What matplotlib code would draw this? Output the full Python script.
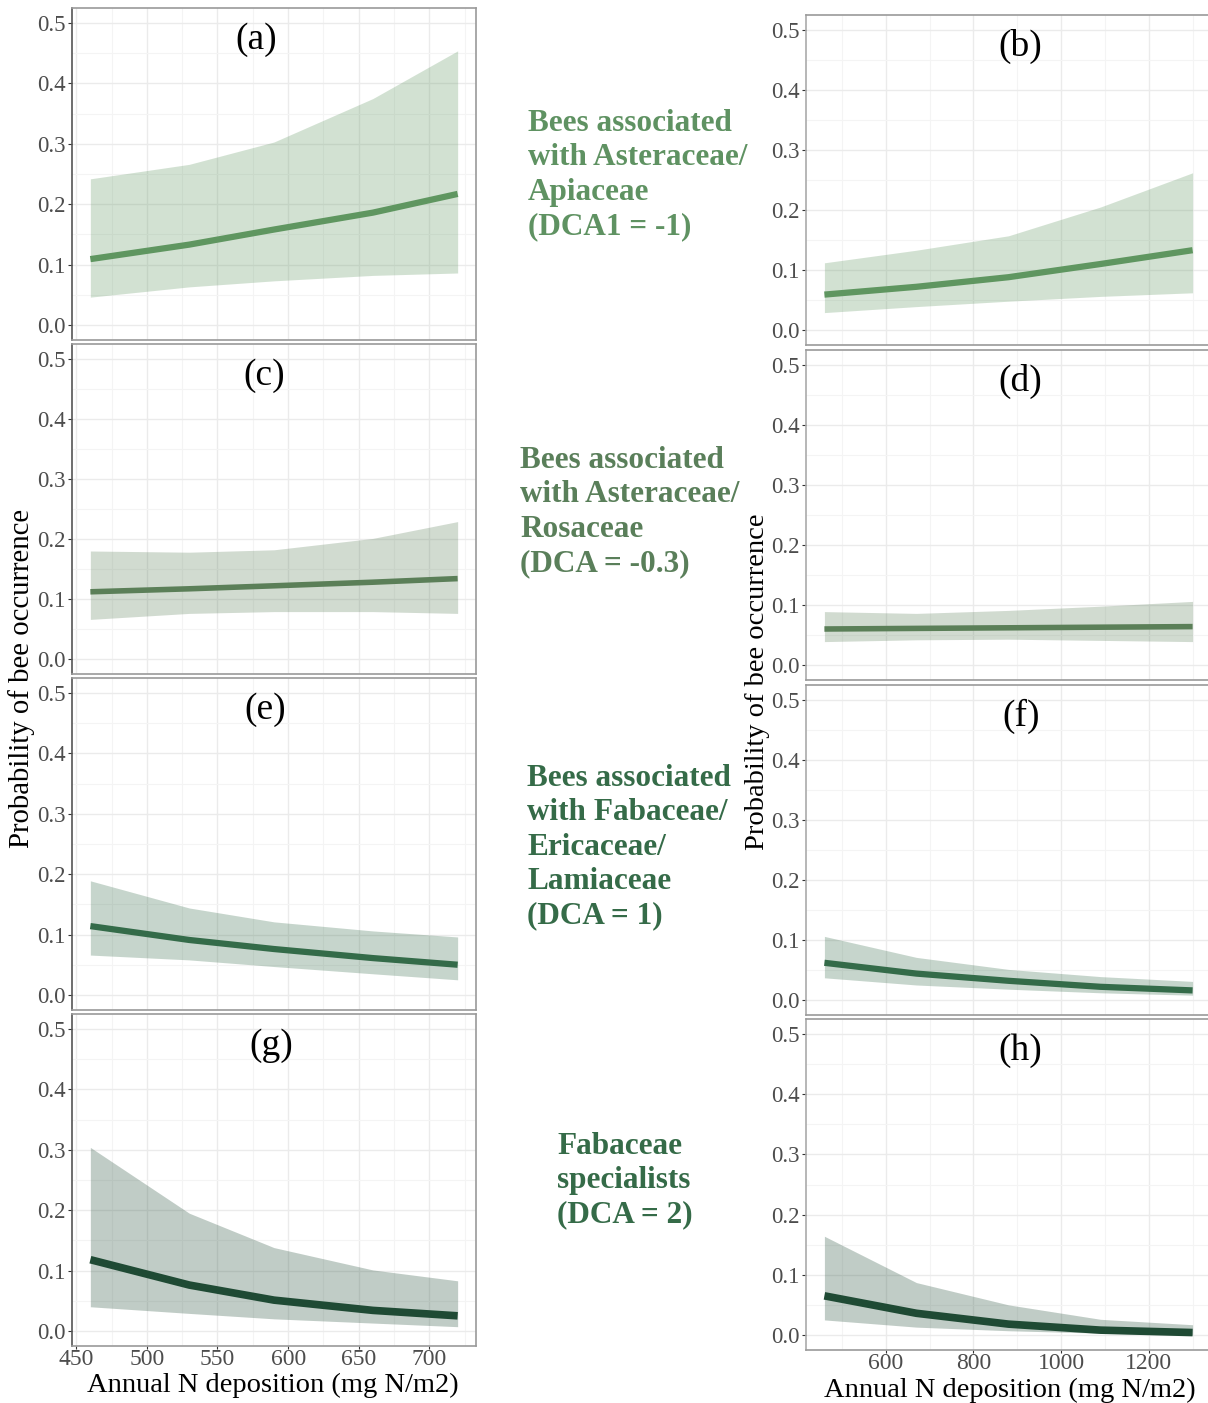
import numpy as np
import matplotlib.pyplot as plt
from matplotlib.ticker import MultipleLocator

plt.rcParams['font.family'] = ['Liberation Serif', 'DejaVu Serif']

# N deposition values where the model curves were evaluated
x_left = [460, 530, 590, 660, 720]
x_right = [460, 670, 880, 1090, 1300]

# (a) Asteraceae/Apiaceae, left
a_fit = [0.109, 0.133, 0.158, 0.186, 0.217]
a_lo = [0.046, 0.063, 0.073, 0.082, 0.086]
a_hi = [0.242, 0.266, 0.303, 0.375, 0.454]
# (b) Asteraceae/Apiaceae, right
b_fit = [0.059, 0.072, 0.088, 0.110, 0.133]
b_lo = [0.029, 0.039, 0.048, 0.056, 0.062]
b_hi = [0.112, 0.133, 0.157, 0.205, 0.262]
# (c) Asteraceae/Rosaceae, left
c_fit = [0.112, 0.117, 0.122, 0.128, 0.134]
c_lo = [0.066, 0.076, 0.079, 0.079, 0.076]
c_hi = [0.180, 0.178, 0.182, 0.201, 0.229]
# (d) Asteraceae/Rosaceae, right
d_fit = [0.060, 0.061, 0.062, 0.063, 0.064]
d_lo = [0.039, 0.042, 0.043, 0.041, 0.039]
d_hi = [0.089, 0.086, 0.091, 0.098, 0.106]
# (e) Fabaceae/Ericaceae/Lamiaceae, left
e_fit = [0.114, 0.091, 0.076, 0.061, 0.050]
e_lo = [0.066, 0.058, 0.047, 0.035, 0.025]
e_hi = [0.189, 0.144, 0.121, 0.106, 0.096]
# (f) Fabaceae/Ericaceae/Lamiaceae, right
f_fit = [0.062, 0.044, 0.032, 0.022, 0.016]
f_lo = [0.037, 0.025, 0.018, 0.012, 0.008]
f_hi = [0.106, 0.071, 0.051, 0.039, 0.031]
# (g) Fabaceae specialists, left
g_fit = [0.118, 0.076, 0.051, 0.034, 0.025]
g_lo = [0.040, 0.029, 0.020, 0.013, 0.007]
g_hi = [0.304, 0.195, 0.138, 0.101, 0.083]
# (h) Fabaceae specialists, right
h_fit = [0.065, 0.036, 0.018, 0.008, 0.004]
h_lo = [0.025, 0.013, 0.007, 0.003, 0.000]
h_hi = [0.164, 0.087, 0.050, 0.026, 0.017]

panel_labels = ['(a)', '(b)', '(c)', '(d)', '(e)', '(f)', '(g)', '(h)']
group_text = ['Bees associated\nwith Asteraceae/\nApiaceae\n(DCA1 = -1)',
              'Bees associated\nwith Asteraceae/\nRosaceae\n(DCA = -0.3)',
              'Bees associated\nwith Fabaceae/\nEricaceae/\nLamiaceae\n(DCA = 1)',
              'Fabaceae\nspecialists\n(DCA = 2)']
colors = ['#5f9660', '#5b7f58', '#346b49', '#1f4a34']
text_colors = ['#5f9262', '#5a7f5a', '#356b48', '#356b48']
lws = [4.5, 4.0, 4.5, 5.5]

left_data = [(a_fit, a_lo, a_hi), (c_fit, c_lo, c_hi), (e_fit, e_lo, e_hi), (g_fit, g_lo, g_hi)]
right_data = [(b_fit, b_lo, b_hi), (d_fit, d_lo, d_hi), (f_fit, f_lo, f_hi), (h_fit, h_lo, h_hi)]

W, H = 1208, 1403
fig = plt.figure(figsize=(W / 100, H / 100), dpi=100)

left_tops = [8, 344, 678, 1014]
left_bots = [340, 674, 1010, 1346]
right_tops = [15, 350, 685, 1019]
right_bots = [345, 680, 1015, 1350]
label_xoff = [-0.045, -0.025, -0.022, -0.007]


def style_axes(ax, xs, major, minor, bottom, left_col):
    ax.set_ylim(-0.025, 0.525)
    pad = (xs[-1] - xs[0]) * 0.05
    ax.set_xlim(xs[0] - pad, xs[-1] + pad)
    ax.yaxis.set_minor_locator(MultipleLocator(0.05))
    ax.xaxis.set_major_locator(MultipleLocator(major))
    ax.xaxis.set_minor_locator(MultipleLocator(minor))
    ax.set_yticks([0, 0.1, 0.2, 0.3, 0.4, 0.5])
    ax.set_yticklabels(['0.0', '0.1', '0.2', '0.3', '0.4', '0.5'])
    ax.grid(which='major', color='#ebebeb', linewidth=1.0)
    ax.grid(which='minor', color='#f4f4f4', linewidth=0.8)
    ax.set_axisbelow(True)
    ax.tick_params(axis='y', which='major', labelsize=16.5, labelcolor='#4d4d4d',
                   color='#333333', length=3, width=0.8, pad=1.5)
    ax.tick_params(which='minor', length=0)
    if bottom:
        ax.tick_params(axis='x', which='major', labelsize=17, labelcolor='#4d4d4d',
                       color='#333333', length=2, width=0.8, pad=0.5)
    else:
        ax.tick_params(axis='x', which='major', length=0, labelbottom=False)
    for s in ax.spines.values():
        s.set_color('#9a9a9a')
        s.set_linewidth(1.2)
    ax.spines['left'].set_color(left_col)


for i in range(4):
    for side in ['L', 'R']:
        if side == 'L':
            xs = x_left
            fit, lo, hi = left_data[i]
            x0, x1 = 72, 476
            top, bot = left_tops[i], left_bots[i]
            lab = panel_labels[2 * i]
        else:
            xs = x_right
            fit, lo, hi = right_data[i]
            x0, x1 = 806, 1211
            top, bot = right_tops[i], right_bots[i]
            lab = panel_labels[2 * i + 1]
        ax = fig.add_axes([x0 / W, 1 - bot / H, (x1 - x0) / W, (bot - top) / H])
        ax.fill_between(xs, lo, hi, color=colors[i], alpha=0.28, linewidth=0)
        ax.plot(xs, fit, color=colors[i], linewidth=lws[i], solid_capstyle='butt')
        if side == 'L':
            style_axes(ax, xs, 50, 25, i == 3, '#555555')
            ax.text(0.5 + label_xoff[i], 0.905, lab, transform=ax.transAxes,
                    fontsize=27, ha='center', va='center', color='black')
        else:
            style_axes(ax, xs, 200, 100, i == 3, '#aaaaaa')
            ax.text(0.53, 0.905, lab, transform=ax.transAxes,
                    fontsize=27, ha='center', va='center', color='black')

# group descriptions in the middle column
text_pos = [(528, 109), (520, 446), (527, 764), (557, 1132)]
for (tx, ty), txt, tc in zip(text_pos, group_text, text_colors):
    fig.text(tx / W, 1 - ty / H, txt, fontsize=22.5, fontweight='bold', color=tc,
             ha='left', va='top', linespacing=1.24)

# axis titles
fig.text(22 / W, 1 - 678 / H, 'Probability of bee occurrence', rotation=90,
         fontsize=20.7, ha='center', va='center')
fig.text(757 / W, 1 - 682 / H, 'Probability of bee occurrence', rotation=90,
         fontsize=20.5, ha='center', va='center')
fig.text(273 / W, 1 - 1385 / H, 'Annual N deposition (mg N/m2)',
         fontsize=20.5, ha='center', va='center')
fig.text(1010 / W, 1 - 1390 / H, 'Annual N deposition (mg N/m2)',
         fontsize=20.5, ha='center', va='center')

fig.savefig('out.png', dpi=100)
